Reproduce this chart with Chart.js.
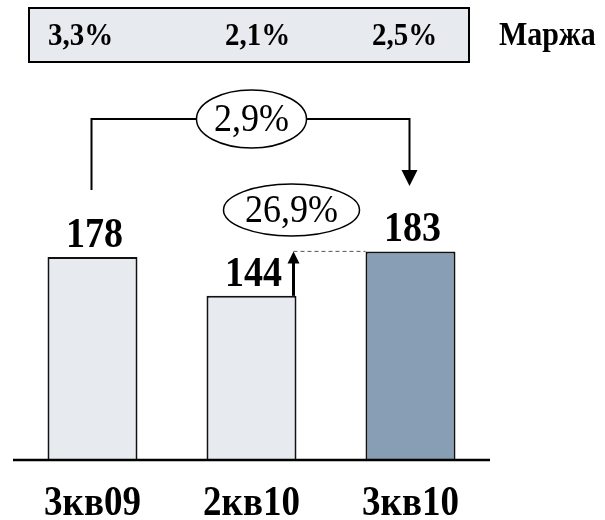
<!DOCTYPE html>
<html>
<head>
<meta charset="utf-8">
<script src="https://cdn.jsdelivr.net/npm/chart.js@4"></script>
<style>
  body { margin: 0; background: #fff; }
  #wrap { width: 605px; height: 520px; }
</style>
</head>
<body>
<div id="wrap"><canvas id="bar-chart" width="605" height="520"></canvas></div>
<script>
// data
var quarters = ["3кв09", "2кв10", "3кв10"];
var revenue = [178, 144, 183];
var margins = ["3,3%", "2,1%", "2,5%"];
var marginTitle = "Маржа";
var yoyGrowth = "2,9%";
var qoqGrowth = "26,9%";
var barColors = ["#E7EAEF", "#E7EAEF", "#889EB5"];

var serif = "'Liberation Serif', 'Times New Roman', serif";

// text is a little taller in the original, stretch it vertically
function tallText(ctx, str, x, y) {
  ctx.save();
  ctx.translate(x, y);
  ctx.scale(1, 1.12);
  ctx.fillText(str, 0, 0);
  ctx.restore();
}

function ellipse(ctx, cx, cy, rx, ry, text) {
  ctx.beginPath();
  ctx.ellipse(cx, cy, rx, ry, 0, 0, Math.PI * 2);
  ctx.fillStyle = "#fff";
  ctx.fill();
  ctx.lineWidth = 1.5;
  ctx.strokeStyle = "#000";
  ctx.stroke();
  ctx.fillStyle = "#000";
  ctx.font = "36px " + serif;
  ctx.textAlign = "center";
  ctx.textBaseline = "middle";
  tallText(ctx, text, cx, cy + 1);
}

function arrowHead(ctx, x, tipY, dir, half, len) {
  ctx.beginPath();
  ctx.moveTo(x, tipY);
  ctx.lineTo(x - half, tipY - dir * len);
  ctx.lineTo(x + half, tipY - dir * len);
  ctx.closePath();
  ctx.fillStyle = "#000";
  ctx.fill();
}

var extras = {
  id: "extras",
  afterDraw: function (chart) {
    var ctx = chart.ctx;
    var area = chart.chartArea;
    var x = chart.scales.x, y = chart.scales.y;
    var cx = quarters.map(function (q, i) { return x.getPixelForValue(i); });
    var top = revenue.map(function (v) { return y.getPixelForValue(v); });
    var bars = chart.getDatasetMeta(0).data;
    ctx.save();

    // axis line
    ctx.beginPath();
    ctx.moveTo(area.left, area.bottom);
    ctx.lineTo(area.right, area.bottom);
    ctx.lineWidth = 2.5;
    ctx.strokeStyle = "#000";
    ctx.stroke();

    // margin box
    ctx.fillStyle = "#E7EAEF";
    ctx.fillRect(29, 8, 440, 54);
    ctx.lineWidth = 2;
    ctx.strokeRect(29, 8, 440, 54);
    ctx.fillStyle = "#000";
    ctx.font = "bold 29px " + serif;
    ctx.textAlign = "center";
    ctx.textBaseline = "alphabetic";
    var boxOff = [-12, 6, -6];
    margins.forEach(function (m, i) { tallText(ctx, m, cx[i] + boxOff[i], 45); });
    ctx.textAlign = "left";
    ctx.font = "bold 30px " + serif;
    tallText(ctx, marginTitle, 499, 45);

    // value labels and categories
    ctx.textAlign = "center";
    ctx.font = "bold 38px " + serif;
    revenue.forEach(function (v, i) { tallText(ctx, String(v), cx[i] + 2, top[i] - 10); });
    ctx.font = "bold 37px " + serif;
    quarters.forEach(function (q, i) { tallText(ctx, q, cx[i], 515); });

    // year-on-year bracket
    ctx.strokeStyle = "#000";
    ctx.lineWidth = 2;
    ctx.beginPath();
    ctx.moveTo(cx[0] - 1, 190);
    ctx.lineTo(cx[0] - 1, 119);
    ctx.lineTo(cx[2] - 1, 119);
    ctx.lineTo(cx[2] - 1, 172);
    ctx.stroke();
    arrowHead(ctx, cx[2] - 1, 186, 1, 8, 16);
    ellipse(ctx, cx[1], 119, 55, 29, yoyGrowth);

    // quarter-on-quarter arrow
    var ax = bars[1].x + bars[1].width / 2 - 3;
    ctx.setLineDash([4, 3]);
    ctx.lineWidth = 1;
    ctx.strokeStyle = "#555";
    ctx.beginPath();
    ctx.moveTo(ax, top[2]);
    ctx.lineTo(bars[2].x - bars[2].width / 2, top[2]);
    ctx.stroke();
    ctx.setLineDash([]);
    ctx.strokeStyle = "#000";
    ctx.lineWidth = 3;
    ctx.beginPath();
    ctx.moveTo(ax, top[1]);
    ctx.lineTo(ax, top[2] + 10);
    ctx.stroke();
    arrowHead(ctx, ax, top[2], -1, 6, 12);
    ellipse(ctx, cx[1] + 40, 210, 68, 26, qoqGrowth);

    ctx.restore();
  }
};

new Chart(document.getElementById("bar-chart"), {
  type: "bar",
  data: {
    labels: quarters,
    datasets: [{
      data: revenue,
      backgroundColor: barColors,
      borderColor: "#111",
      borderWidth: 2,
      barPercentage: 1,
      categoryPercentage: 0.566
    }]
  },
  options: {
    responsive: false,
    animation: false,
    devicePixelRatio: 1,
    layout: { padding: { left: 13, right: 115, top: 61, bottom: 60 } },
    plugins: { legend: { display: false }, tooltip: { enabled: false } },
    scales: {
      x: { display: false },
      y: { display: false, min: 0, max: 350 }
    }
  },
  plugins: [extras]
});
</script>
</body>
</html>
